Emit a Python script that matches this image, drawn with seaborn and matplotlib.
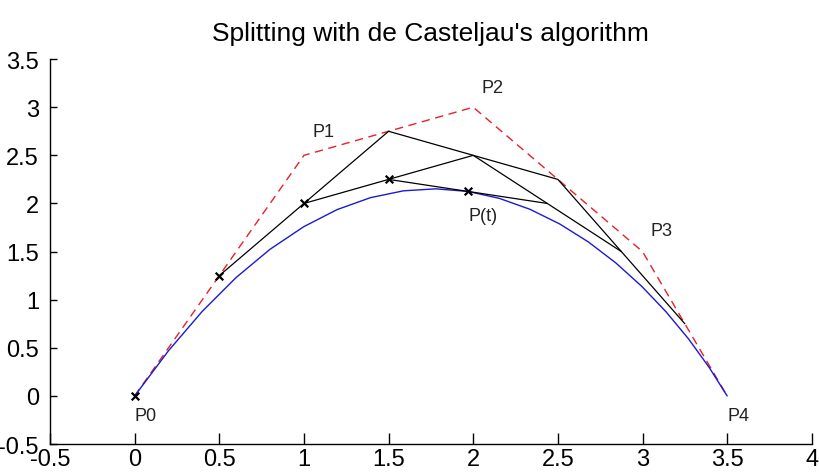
import matplotlib
matplotlib.use("Agg")
import matplotlib.pyplot as plt
import matplotlib.ticker as mticker
import pandas as pd
import seaborn as sns

# control polygon
CTRL_X = [0.0, 1.0, 2.0, 3.0, 3.5]
CTRL_Y = [0.0, 2.5, 3.0, 1.5, 0.0]
CTRL_NAMES = ["P0", "P1", "P2", "P3", "P4"]
LABEL_X = [0.0, 1.05, 2.05, 3.05, 3.5]
LABEL_Y = [-0.2, 2.75, 3.2, 1.72, -0.2]

# Bezier curve
CURVE_X = [0.0, 0.2, 0.4, 0.5997, 0.7992, 0.998, 1.196, 1.3925, 1.5872, 1.7795,
           1.96875, 2.1542, 2.3352, 2.5107, 2.68, 2.8418, 2.9952, 3.139, 3.272,
           3.3927, 3.5]
CURVE_Y = [0.0, 0.47, 0.8802, 1.231, 1.5232, 1.7578, 1.9362, 2.06, 2.1312, 2.152,
           2.125, 2.053, 1.9392, 1.787, 1.6002, 1.3828, 1.1392, 0.874, 0.5922,
           0.299, 0.0]

# de Casteljau levels at t = 0.5
LEVEL1_X = [0.5, 1.5, 2.5, 3.25]
LEVEL1_Y = [1.25, 2.75, 2.25, 0.75]
LEVEL2_X = [1.0, 2.0, 2.875]
LEVEL2_Y = [2.0, 2.5, 1.5]
LEVEL3_X = [1.5, 2.4375]
LEVEL3_Y = [2.25, 2.0]

# left sub-curve points (crosses)
SPLIT_X = [0.0, 0.5, 1.0, 1.5, 1.96875]
SPLIT_Y = [0.0, 1.25, 2.0, 2.25, 2.125]
PT_LABEL = (1.97, 1.88)

X_TICKS = [-0.5, 0, 0.5, 1, 1.5, 2, 2.5, 3, 3.5, 4]
Y_TICKS = [-0.5, 0, 0.5, 1, 1.5, 2, 2.5, 3, 3.5]


def main():
    sns.set_style("ticks")
    plt.rcParams["font.family"] = ["Liberation Sans Narrow", "Liberation Sans", "DejaVu Sans"]
    plt.rcParams["axes.unicode_minus"] = False
    plt.rcParams["text.color"] = "black"
    plt.rcParams["xtick.color"] = "black"
    plt.rcParams["ytick.color"] = "black"

    fig = plt.figure(figsize=(8.2, 4.77), dpi=100)
    ax = fig.add_axes([0.061, 0.067, 0.929, 0.807])

    ctrl = pd.DataFrame({"x": CTRL_X, "y": CTRL_Y})
    curve = pd.DataFrame({"x": CURVE_X, "y": CURVE_Y})

    sns.lineplot(data=ctrl, x="x", y="y", sort=False, color="#e8202a",
                 linewidth=1.0, linestyle=(0, (6, 4)), ax=ax)
    sns.lineplot(data=curve, x="x", y="y", sort=False, color="#1a1ad0",
                 linewidth=1.0, ax=ax)
    for xs, ys in [(LEVEL1_X, LEVEL1_Y), (LEVEL2_X, LEVEL2_Y), (LEVEL3_X, LEVEL3_Y)]:
        sns.lineplot(x=xs, y=ys, sort=False, color="black", linewidth=0.9, ax=ax)
    sns.scatterplot(x=SPLIT_X, y=SPLIT_Y, marker="x", color="black", s=30,
                    linewidth=1.6, ax=ax, zorder=5)

    for name, lx, ly in zip(CTRL_NAMES, LABEL_X, LABEL_Y):
        ax.text(lx, ly, name, fontsize=13, va="center", ha="left", color="#222222")
    ax.text(PT_LABEL[0], PT_LABEL[1], "P(t)", fontsize=13, va="center", ha="left",
            color="#222222")

    ax.set_xlim(-0.5, 4)
    ax.set_ylim(-0.5, 3.5)
    ax.set_xticks(X_TICKS)
    ax.set_yticks(Y_TICKS)
    fmt = mticker.FuncFormatter(lambda v, p: f"{v:g}")
    ax.xaxis.set_major_formatter(fmt)
    ax.yaxis.set_major_formatter(fmt)
    ax.tick_params(axis="x", direction="in", length=8, width=1, labelsize=17, pad=3)
    ax.tick_params(axis="y", direction="in", length=5, width=1, labelsize=17, pad=8)
    ax.set_xlabel("")
    ax.set_ylabel("")
    for side in ["top", "right"]:
        ax.spines[side].set_visible(False)
    for side in ["left", "bottom"]:
        ax.spines[side].set_linewidth(1.0)
        ax.spines[side].set_color("black")

    ax.set_title("Splitting with de Casteljau's algorithm", fontsize=19, pad=14,
                 color="black")

    fig.savefig("out.png", dpi=100)
    plt.close(fig)


if __name__ == "__main__":
    main()
